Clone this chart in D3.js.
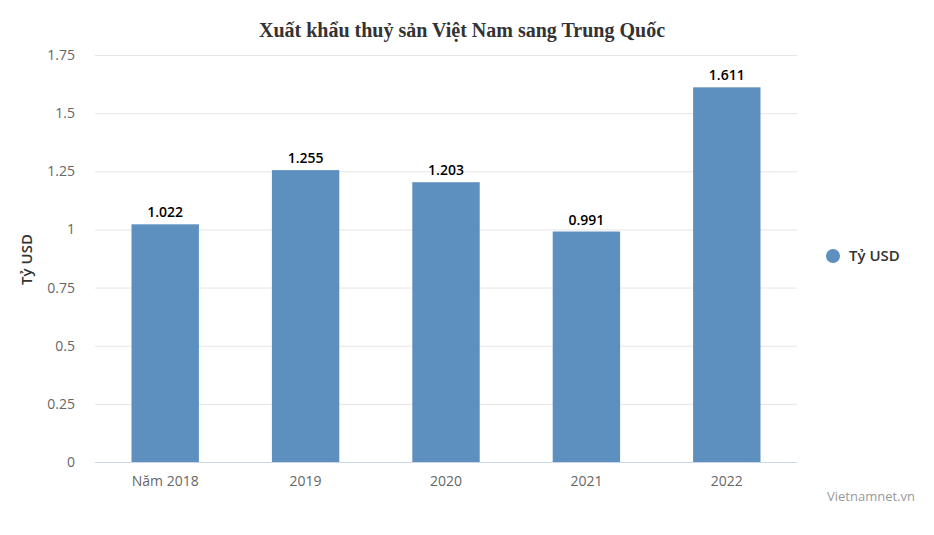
<!DOCTYPE html>
<html>
<head>
<meta charset="utf-8">
<script src="https://cdn.jsdelivr.net/npm/d3@7"></script>
<style>
  body { margin: 0; background: #fff; }
  svg { font-family: "Open Sans", "DejaVu Sans", sans-serif; }
</style>
</head>
<body>
<svg id="chart" width="934" height="535"></svg>
<script>
// --- data
const years = ['Năm 2018', '2019', '2020', '2021', '2022'];
const values = [1.022, 1.255, 1.203, 0.991, 1.611];
const yTicks = [0, 0.25, 0.5, 0.75, 1, 1.25, 1.5, 1.75];
const seriesName = 'Tỷ USD';

const BAR_COLOR = '#5d8fbf';

function drawChart() {
    const svg = d3.select('#chart');
    const margin = { left: 95, right: 137, top: 55, bottom: 73 };
    const width = 934 - margin.left - margin.right;
    const height = 535 - margin.top - margin.bottom;

    const x = d3.scaleBand()
        .domain(years)
        .range([margin.left, margin.left + width])
        .paddingInner(0.52)
        .paddingOuter(0.26);

    const y = d3.scaleLinear()
        .domain([0, 1.75])
        .range([margin.top + height, margin.top]);

    // title
    svg.append('text')
        .attr('x', 462)
        .attr('y', 37)
        .attr('text-anchor', 'middle')
        .style('font-family', '"Liberation Serif", "Times New Roman", serif')
        .style('font-weight', 'bold')
        .style('font-size', '20px')
        .attr('fill', '#333')
        .text('Xuất khẩu thuỷ sản Việt Nam sang Trung Quốc');

    // grid
    svg.append('g')
        .selectAll('line')
        .data(yTicks.filter(d => d > 0))
        .enter()
        .append('line')
        .attr('x1', margin.left)
        .attr('x2', margin.left + width)
        .attr('y1', d => y(d) + 0.5)
        .attr('y2', d => y(d) + 0.5)
        .attr('stroke', '#e6e6e6');

    // y axis labels
    const yAxis = d3.axisLeft(y)
        .tickValues(yTicks)
        .tickSize(0)
        .tickPadding(20)
        .tickFormat(d => String(d));
    const yg = svg.append('g')
        .attr('transform', `translate(${margin.left},0)`)
        .call(yAxis);
    yg.select('.domain').remove();
    yg.selectAll('text')
        .attr('fill', '#666')
        .style('font-family', '"Open Sans", sans-serif')
        .style('font-size', '14px');

    svg.append('text')
        .attr('transform', `translate(32, ${margin.top + height / 2 + 1}) rotate(-90)`)
        .attr('text-anchor', 'middle')
        .style('font-size', '15px')
        .style('font-weight', '600')
        .attr('fill', '#333')
        .text(seriesName);

    // bars
    svg.append('g')
        .selectAll('rect')
        .data(values)
        .enter()
        .append('rect')
        .attr('x', (d, i) => x(years[i]))
        .attr('y', d => y(d))
        .attr('width', x.bandwidth())
        .attr('height', d => y(0) - y(d))
        .attr('fill', BAR_COLOR);

    // value labels
    svg.append('g')
        .selectAll('text')
        .data(values)
        .enter()
        .append('text')
        .attr('x', (d, i) => x(years[i]) + x.bandwidth() / 2)
        .attr('y', d => y(d) - 7)
        .attr('text-anchor', 'middle')
        .style('font-size', '14px')
        .style('font-weight', '600')
        .attr('fill', '#000')
        .attr('stroke', '#fff')
        .attr('stroke-width', 2)
        .attr('paint-order', 'stroke')
        .text(d => d3.format('.3f')(d));

    // x axis
    const xAxis = d3.axisBottom(x).tickSize(0).tickPadding(14);
    const xg = svg.append('g')
        .attr('transform', `translate(0,${y(0)})`)
        .call(xAxis);
    xg.select('.domain')
        .attr('stroke', '#ccd6eb')
        .attr('d', `M${margin.left},0.5H${margin.left + width}`);
    xg.selectAll('text')
        .attr('fill', '#666')
        .style('font-family', '"Open Sans", sans-serif')
        .style('font-size', '14px');

    // legend
    const legend = svg.append('g')
        .attr('transform', 'translate(833, 256)');
    legend.append('circle')
        .attr('r', 7)
        .attr('fill', BAR_COLOR);
    legend.append('text')
        .attr('x', 16)
        .attr('y', 5)
        .style('font-size', '15px')
        .style('font-weight', '600')
        .attr('fill', '#333')
        .text(seriesName);

    // credit
    svg.append('text')
        .attr('x', 915)
        .attr('y', 501)
        .attr('text-anchor', 'end')
        .style('font-size', '13px')
        .attr('fill', '#999')
        .text('Vietnamnet.vn');
}

drawChart();
</script>
</body>
</html>
